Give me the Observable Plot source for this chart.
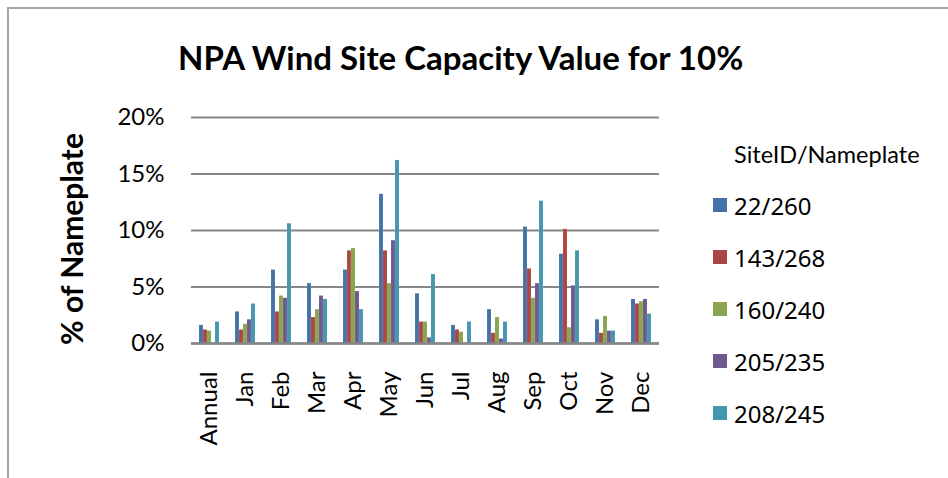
<!DOCTYPE html>
<html><head><meta charset="utf-8">
<script src="https://cdn.jsdelivr.net/npm/d3@7"></script>
<script src="https://cdn.jsdelivr.net/npm/@observablehq/plot@0.6"></script>
<style>
body{margin:0;background:#fff;}
#wrap{position:relative;width:948px;height:478px;overflow:hidden;background:#fff;font-family:Lato, sans-serif;color:#000;}
#border{position:absolute;left:7px;top:7px;width:1000px;height:1000px;border-left:2px solid #a6a6a6;border-top:2px solid #a6a6a6;}
#title{position:absolute;left:178px;top:37px;font-weight:bold;font-size:33px;white-space:nowrap;}
#ylabel{position:absolute;left:71px;top:239px;transform:translate(-50%,-50%) rotate(-90deg);font-weight:bold;font-size:30px;white-space:nowrap;}
#chart{position:absolute;left:0;top:100px;}
#ltitle{position:absolute;left:734px;top:140px;font-size:23.5px;white-space:nowrap;}
#legend{position:absolute;left:713px;top:179px;}
.lg-swatches{margin:0 !important;min-height:0 !important;}
.lg-swatch{height:52px;font-size:24px !important;display:flex;align-items:center;margin:0 !important;padding:0 !important;}
.lg-swatch > svg{margin-right:7px !important;}
</style></head>
<body><div id="wrap">
<div id="border"></div>
<div id="title">NPA Wind Site Capacity Value for 10%</div>
<div id="ylabel">% of Nameplate</div>
<div id="chart"></div>
<div id="ltitle">SiteID/Nameplate</div>
<div id="legend"></div>
</div>
<script>
const months = ["Annual","Jan","Feb","Mar","Apr","May","Jun","Jul","Aug","Sep","Oct","Nov","Dec"];
const series = ["22/260","143/268","160/240","205/235","208/245"];
const colors = ["#4572A7","#AA4643","#89A54E","#71588F","#4198AF"];
const site22_260  = [1.6, 2.8, 6.5, 5.3, 6.5, 13.2, 4.4, 1.6, 3.0, 10.3, 7.9, 2.1, 3.9];
const site143_268 = [1.2, 1.2, 2.8, 2.3, 8.2, 8.2, 1.9, 1.2, 0.9, 6.6, 10.1, 0.9, 3.5];
const site160_240 = [1.1, 1.7, 4.2, 3.0, 8.4, 5.3, 1.9, 1.0, 2.3, 4.0, 1.4, 2.4, 3.7];
const site205_235 = [0.0, 2.1, 4.0, 4.2, 4.6, 9.1, 0.5, 0.0, 0.4, 5.3, 5.1, 1.1, 3.9];
const site208_245 = [1.9, 3.5, 10.6, 3.9, 3.0, 16.2, 6.1, 1.9, 1.9, 12.6, 8.2, 1.1, 2.6];
const yTicks = [0, 5, 10, 15, 20];

const seriesValues = [site22_260, site143_268, site160_240, site205_235, site208_245];
const rows = months.flatMap((m, i) => series.map((s, j) => ({month: m, site: s, value: seriesValues[j][i]})));

const chart = Plot.plot({
  width: 700, height: 378,
  marginLeft: 188, marginRight: 38, marginTop: 17, marginBottom: 135,
  style: {fontFamily: "Lato, sans-serif", fontSize: "24px", color: "black", background: "transparent", overflow: "visible"},
  fx: {domain: months, paddingInner: 0, paddingOuter: 0, axis: "bottom", tickRotate: -90, tickSize: 0, tickPadding: 28, label: null},
  x: {domain: series, axis: null, paddingInner: 0, paddingOuter: 1.25},
  y: {domain: [0, 20], label: null},
  color: {domain: series, range: colors},
  marks: [
    Plot.ruleY(yTicks, {stroke: "#868686", strokeWidth: 2}),
    Plot.barY(rows, {fx: "month", x: "site", y: "value", fill: "site", stroke: "#ffffff", strokeOpacity: 0.2, strokeWidth: 0.5}),
    Plot.axisY(yTicks, {tickSize: 0, tickPadding: 27, tickFormat: d => d + "%", line: true, stroke: "#868686", strokeWidth: 2, label: null}),
    Plot.ruleY([0], {stroke: "#868686", strokeWidth: 2.5})
  ]
});
document.getElementById("chart").append(chart);

const legend = Plot.legend({color: {domain: series, range: colors}, legend: "swatches", columns: 1, swatchSize: 14, className: "lg"});
document.getElementById("legend").append(legend);
</script>
</body></html>
